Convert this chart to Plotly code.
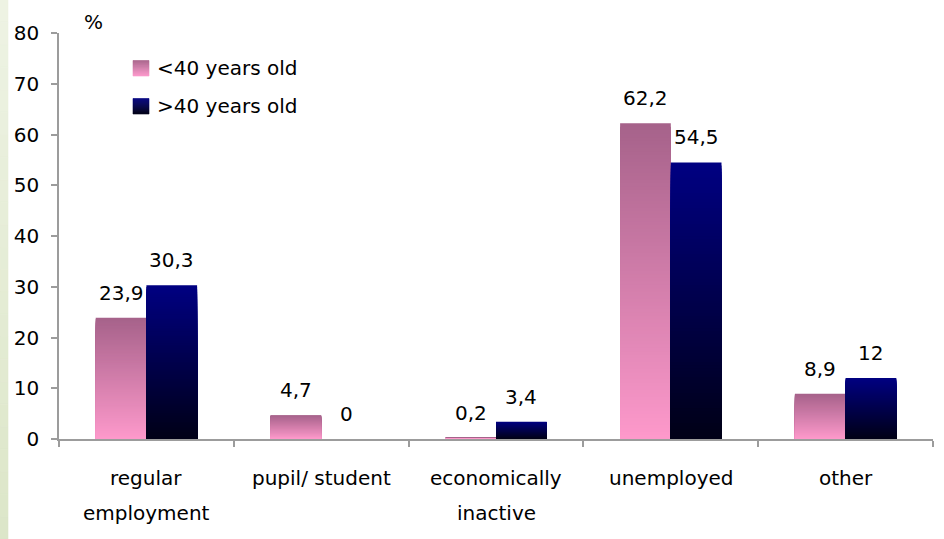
import plotly.graph_objects as go

# ---- data -------------------------------------------------------------
categories = ["regular employment", "pupil/ student", "economically inactive",
              "unemployed", "other"]
category_lines = [["regular", "employment"], ["pupil/ student"],
                  ["economically", "inactive"], ["unemployed"], ["other"]]
under_40 = [23.9, 4.7, 0.2, 62.2, 8.9]
over_40 = [30.3, 0, 3.4, 54.5, 12]
series_names = ["<40 years old", ">40 years old"]
y_ticks = [0, 10, 20, 30, 40, 50, 60, 70, 80]

# ---- layout geometry (pixels) -----------------------------------------
W, H = 944, 539
M_L, M_R, M_T, M_B = 59, 11, 33, 100
PW, PH = W - M_L - M_R, H - M_T - M_B

FONT = "DejaVu Sans"
FS = 20
AXIS_GRAY = "#9c9c9c"

# gradient end colours (top -> bottom) for each series
GRADIENTS = [("#a6628a", "#fd99cb"), ("#000082", "#000016")]
N_SEG = 90


def hex_to_rgb(h):
    h = h.lstrip("#")
    return tuple(int(h[i:i + 2], 16) for i in (0, 2, 4))


def mix(c_top, c_bot, t):
    """t = 0 at top, 1 at bottom."""
    a, b = hex_to_rgb(c_top), hex_to_rgb(c_bot)
    return "rgb({},{},{})".format(*[round(a[i] + (b[i] - a[i]) * t) for i in range(3)])


def px_x(px):
    return (px - M_L) / PW


def px_y(py):
    return (M_T + PH - py) / PH


fig = go.Figure()

# Each bar gets a vertical gradient: a series of overlapping bars from zero,
# every one shorter than the last and painted in the next colour band down.
for s, values in enumerate([under_40, over_40]):
    c_top, c_bot = GRADIENTS[s]
    for k in range(N_SEG):
        col = mix(c_top, c_bot, (k + 0.5) / N_SEG)
        fig.add_trace(go.Bar(
            x=categories,
            y=[v * (N_SEG - k) / N_SEG for v in values],
            offsetgroup=str(s),
            marker=dict(color=col, line=dict(width=0)),
            showlegend=False,
            hoverinfo="skip",
        ))

# value labels above the bars
BAR_HALF = PW / len(categories) * (1 - 0.42) / 4
for s, values in enumerate([under_40, over_40]):
    for cat, v in zip(categories, values):
        label = f"{v:g}".replace(".", ",")
        fig.add_annotation(
            x=cat, y=v, xref="x", yref="y", text=label, showarrow=False,
            xshift=(-1 if s == 0 else 1) * BAR_HALF, yshift=25,
            xanchor="center", yanchor="middle",
            font=dict(family=FONT, size=FS, color="#000"),
        )

# category labels (two-line labels get extra line spacing)
for cat, lines in zip(categories, category_lines):
    for i, line in enumerate(lines):
        fig.add_annotation(
            x=cat, y=0, xref="x", yref="paper", text=line, showarrow=False,
            yshift=-39 - 35 * i, xanchor="center", yanchor="middle",
            font=dict(family=FONT, size=FS, color="#000"),
        )

shapes = []

# legend with gradient swatches
legend_rows = [68, 106]
for s, (name, row) in enumerate(zip(series_names, legend_rows)):
    c_top, c_bot = GRADIENTS[s]
    n = 16
    y0 = row - 7.5
    for k in range(n):
        shapes.append(dict(
            type="rect", xref="paper", yref="paper", layer="above",
            x0=px_x(133), x1=px_x(149),
            y0=px_y(y0 + (k + 1) * 15.5 / n), y1=px_y(y0 + k * 15.5 / n),
            fillcolor=mix(c_top, c_bot, (k + 0.5) / n),
            line=dict(width=0.6, color=mix(c_top, c_bot, (k + 0.5) / n)),
        ))
    fig.add_annotation(
        x=px_x(155), y=px_y(row), xref="paper", yref="paper", text=name,
        showarrow=False, xanchor="left", yanchor="middle",
        font=dict(family=FONT, size=FS, color="#000"),
    )

# "%" unit label
fig.add_annotation(
    x=px_x(93), y=px_y(22), xref="paper", yref="paper", text="%",
    showarrow=False, xanchor="center", yanchor="middle",
    font=dict(family=FONT, size=FS, color="#000"),
)

# pale green strip along the left edge of the slide
n_strip = 24
for k in range(n_strip):
    col = mix("#eef3e4", "#dce6c8", (k + 0.5) / n_strip)
    shapes.append(dict(
        type="rect", xref="paper", yref="paper", layer="below",
        x0=px_x(0), x1=px_x(8),
        y0=px_y((k + 1) * H / n_strip), y1=px_y(k * H / n_strip),
        fillcolor=col, line=dict(width=0.6, color=col),
    ))

fig.update_layout(
    width=W, height=H,
    margin=dict(l=M_L, r=M_R, t=M_T, b=M_B, autoexpand=False),
    paper_bgcolor="white", plot_bgcolor="white",
    barmode="group", bargap=0.42, bargroupgap=0,
    showlegend=False,
    shapes=shapes,
    font=dict(family=FONT, size=FS, color="#000"),
    xaxis=dict(
        type="category", range=[-0.5, len(categories) - 0.5],
        showticklabels=False, showgrid=False, zeroline=False,
        showline=True, linecolor=AXIS_GRAY, linewidth=1.5,
        ticks="outside", tickson="boundaries", ticklen=6,
        tickcolor=AXIS_GRAY, tickwidth=1.5,
    ),
    yaxis=dict(
        range=[0, 80], tickvals=y_ticks, showgrid=False, zeroline=False,
        showline=True, linecolor=AXIS_GRAY, linewidth=1.5,
        ticks="outside", ticklen=6, tickcolor=AXIS_GRAY, tickwidth=1.5,
        ticklabelstandoff=8,
        tickfont=dict(family=FONT, size=FS, color="#000"),
    ),
)

fig.write_html("out.html")
